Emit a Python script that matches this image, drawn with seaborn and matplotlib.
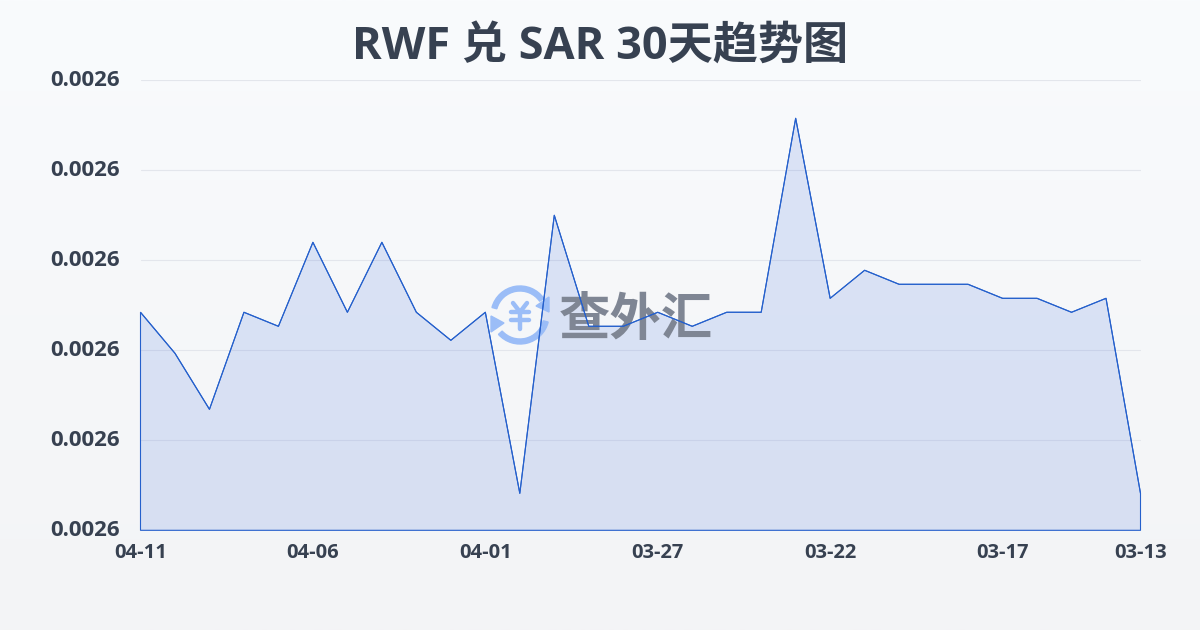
import numpy as np
import pandas as pd
import matplotlib.pyplot as plt
import seaborn as sns
from matplotlib.lines import Line2D
from matplotlib.patches import Wedge, Polygon
from matplotlib.transforms import IdentityTransform

# data
dates = ['04-11', '04-10', '04-09', '04-08', '04-07', '04-06', '04-05', '04-04', '04-03', '04-02',
         '04-01', '03-31', '03-30', '03-29', '03-28', '03-27', '03-26', '03-25', '03-24', '03-23',
         '03-22', '03-21', '03-20', '03-19', '03-18', '03-17', '03-16', '03-15', '03-14', '03-13']
rates = [0.00260907, 0.00260360, 0.00259613, 0.00260907, 0.00260720, 0.00261840,
         0.00260907, 0.00261840, 0.00260907, 0.00260533, 0.00260907, 0.00258493,
         0.00262200, 0.00260720, 0.00260720, 0.00260907, 0.00260720, 0.00260907,
         0.00260907, 0.00263493, 0.00261093, 0.00261467, 0.00261280, 0.00261280,
         0.00261280, 0.00261093, 0.00261093, 0.00260907, 0.00261093, 0.00258493]
y_ticks = [0.00258, 0.002592, 0.002604, 0.002616, 0.002628, 0.00264]
x_tick_labels = ['04-11', '04-06', '04-01', '03-27', '03-22', '03-17', '03-13']

df = pd.DataFrame({'date': dates, 'rate': rates})
df['pos'] = range(len(df))

W, H = 1200, 630
LINE = '#2560cc'
TEXT = '#374151'

sns.set_theme(style='white')
plt.rcParams['font.family'] = ['Open Sans', 'Noto Sans CJK SC', 'DejaVu Sans']

fig = plt.figure(figsize=(W / 100, H / 100), dpi=100)

# background gradient
bg = fig.add_axes([0, 0, 1, 1], zorder=-1)
bg.imshow(np.linspace(0, 1, 256).reshape(-1, 1), aspect='auto',
          cmap=plt.matplotlib.colors.LinearSegmentedColormap.from_list('bg', ['#f9fbfd', '#f3f4f6']))
bg.axis('off')

ax = fig.add_axes([140.5 / W, (H - 530.3) / H, 1000 / W, 450 / H])
ax.patch.set_alpha(0)

# watermark, placed in pixels, over the fill and under the line
cx, cy = 520, H - 315
ring = '#9bbdf7'
px = IdentityTransform()
ax.add_patch(Wedge((cx, cy), 29, 35, 165, width=5, color=ring, transform=px, zorder=2.5, clip_on=False))
ax.add_patch(Wedge((cx, cy), 29, 222, 346, width=5, color=ring, transform=px, zorder=2.5, clip_on=False))
ax.add_patch(Polygon([(549, H - 297), (549, H - 312), (536, H - 306)], color=ring, transform=px, zorder=2.5, clip_on=False))
ax.add_patch(Polygon([(491, H - 316), (491, H - 332), (504, H - 323)], color=ring, transform=px, zorder=2.5, clip_on=False))
yen_strokes = [([513, 520, 527], [303, 312, 303]), ([520, 520], [312, 329]),
               ([511, 529], [312, 312]), ([511, 529], [320, 320])]
for xs, ys in yen_strokes:
    ax.add_line(Line2D(xs, [H - v for v in ys], color=ring, lw=3.2, solid_capstyle='round',
                       transform=px, zorder=2.5, clip_on=False))
ax.text(636, H - 319, '查外汇', transform=px, color='#7f8694', fontsize=37, fontweight='bold',
        family=['Noto Sans CJK SC'], ha='center', va='center', zorder=2.5)

ax.fill_between(df['pos'], df['rate'], y_ticks[0], facecolor='#3565d9', alpha=0.15, lw=0, zorder=2)
ax.fill_between(df['pos'], df['rate'], y_ticks[0], facecolor='none', edgecolor=LINE, lw=0.8, zorder=3, clip_on=False)
sns.lineplot(data=df, x='pos', y='rate', ax=ax, color=LINE, lw=0.8, zorder=4)

ax.set_xlim(0, len(dates) - 1)
ax.set_ylim(y_ticks[0], y_ticks[-1])
ax.set_xlabel('')
ax.set_ylabel('')
ax.set_yticks(y_ticks)
ax.set_yticklabels([f'{v:.4f}' for v in y_ticks], fontsize=16, fontweight='bold', color=TEXT, va='center')
ax.set_xticks([0, 5, 10, 15, 20, 25, 29])
ax.set_xticklabels(x_tick_labels, fontsize=14.5, fontweight='bold', color=TEXT)
ax.tick_params(axis='y', length=0, pad=14.5)
ax.tick_params(axis='x', length=7, width=0.8, color='#eef0f3', pad=2)
ax.grid(axis='y', color='#e3e6ec', lw=0.8)
ax.grid(axis='x', visible=False)
ax.set_axisbelow(True)
sns.despine(ax=ax, left=True, bottom=True)

fig.text(600 / W, (H - 47) / H, 'RWF 兑 SAR 30天趋势图', fontsize=32.5, fontweight='bold', color=TEXT,
         family=['Open Sans', 'Noto Sans CJK SC', 'DejaVu Sans'], ha='center', va='center')

fig.savefig('out.png', dpi=100)
